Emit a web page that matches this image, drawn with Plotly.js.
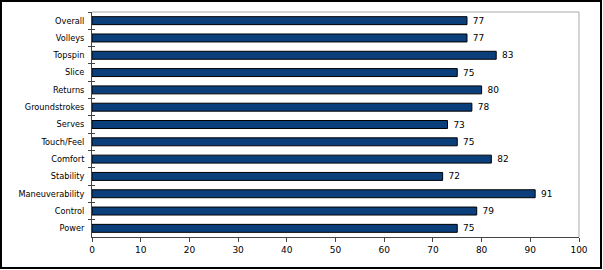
<!DOCTYPE html>
<html><head><meta charset="utf-8">
<script src="https://cdn.plot.ly/plotly-3.0.1.min.js"></script>
<style>html,body{margin:0;padding:0;background:#fff;}#chart{width:603px;height:270px;}</style>
</head><body><div id="chart"></div>
<script>
const categories = ["Overall","Volleys","Topspin","Slice","Returns","Groundstrokes","Serves","Touch/Feel","Comfort","Stability","Maneuverability","Control","Power"];
const ratings = [77,77,83,75,80,78,73,75,82,72,91,79,75];
const xTicks = [0,10,20,30,40,50,60,70,80,90,100];

const fam = "DejaVu Sans, Verdana, sans-serif";
const trace = {
  type:"bar", orientation:"h", y:categories, x:ratings,
  marker:{color:"#0B3F7C", line:{color:"#000", width:1}},
  width:0.46,
  text:ratings.map(v=>" "+v), textposition:"outside", cliponaxis:false,
  constraintext:"none",
  textfont:{family:fam, size:9, color:"#000"}, hoverinfo:"none"
};
const ghost = {
  type:"bar", orientation:"h", y:categories, x:ratings, yaxis:"y2",
  marker:{color:"rgba(0,0,0,0)"}, hoverinfo:"none", showlegend:false
};
const layout = {
  width:603, height:270,
  margin:{l:92, r:24, t:12, b:33},
  paper_bgcolor:"#fff", plot_bgcolor:"#fff",
  font:{family:fam, size:9, color:"#000"}, showlegend:false,
  xaxis:{range:[0,100], tickvals:xTicks, ticks:"outside", ticklen:4, tickcolor:"#444",
         showgrid:false, zeroline:false, showline:true, linecolor:"#444", linewidth:1,
         tickfont:{family:fam, size:9, color:"#000"}, fixedrange:true},
  yaxis:{type:"category", autorange:"reversed", ticks:"outside", tickson:"boundaries",
         ticklen:3, tickcolor:"#444", showgrid:false, zeroline:false, showline:true,
         linecolor:"#444", linewidth:1, ticklabelstandoff:5,
         tickfont:{family:fam, size:8.2, color:"#000"}, fixedrange:true},
  yaxis2:{type:"category", autorange:"reversed", overlaying:"y", side:"left",
         ticks:"inside", tickson:"boundaries", ticklen:3, tickcolor:"#444",
         showticklabels:false, showgrid:false, zeroline:false, showline:false, fixedrange:true},
  shapes:[
    {type:"line", xref:"paper", yref:"paper", x0:0, x1:1, y0:1, y1:1, line:{color:"#aaa", width:1}},
    {type:"line", xref:"paper", yref:"paper", x0:1, x1:1, y0:0, y1:1, line:{color:"#aaa", width:1}},
    {type:"rect", xref:"paper", yref:"paper", x0:-0.1869, x1:1.0452, y0:-0.1378, y1:1.0489, line:{color:"#000", width:2}}
  ]
};
Plotly.newPlot("chart", [ghost, trace], layout, {displayModeBar:false, staticPlot:true});
</script></body></html>
